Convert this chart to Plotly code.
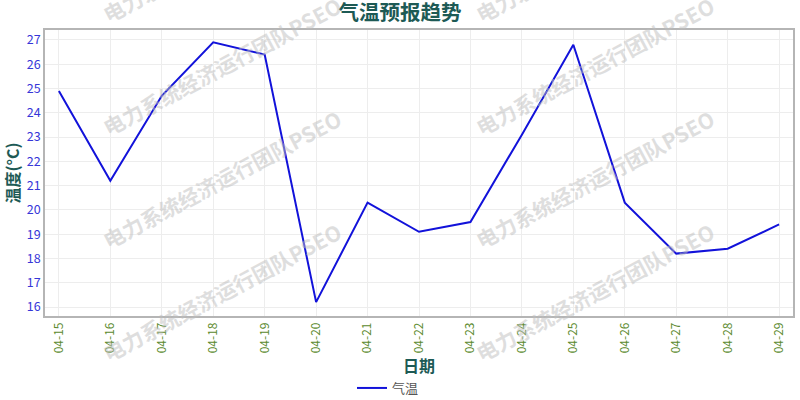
import plotly.graph_objects as go

dates = ["04-15", "04-16", "04-17", "04-18", "04-19", "04-20", "04-21", "04-22",
         "04-23", "04-24", "04-25", "04-26", "04-27", "04-28", "04-29"]
temps = [24.9, 21.2, 24.7, 26.9, 26.4, 16.2, 20.3, 19.1,
         19.5, 23.1, 26.8, 20.3, 18.2, 18.4, 19.4]

title_text = "气温预报趋势"
x_title = "日期"
y_title = "温度(°C)"
series_name = "气温"
watermark = "电力系统经济运行团队PSEO"

FONT = "Noto Sans CJK SC"
L, R, T, B = 45, 7, 30, 84
W, H = 800, 400
pw, ph = W - L - R, H - T - B

fig = go.Figure()
fig.add_trace(go.Scatter(
    x=dates, y=temps, mode="lines", name=series_name,
    line=dict(color="#1212da", width=2),
))

# watermark copies (pixel centres)
wm_centres = [(222, -47), (222, 66), (222, 179), (222, 292),
              (595, -47), (595, 66), (595, 179), (595, 292)]
for cx, cy in wm_centres:
    fig.add_annotation(
        text=watermark, xref="paper", yref="paper",
        x=(cx - L) / pw, y=(H - B - cy) / ph,
        xanchor="center", yanchor="middle", showarrow=False,
        textangle=-28,
        font=dict(family=FONT, size=21, color="rgba(190,190,190,0.5)", weight="bold"),
    )

fig.update_layout(
    width=W, height=H,
    margin=dict(l=L, r=R, t=T, b=B, autoexpand=False),
    paper_bgcolor="white", plot_bgcolor="white",
    font=dict(family=FONT),
    title=dict(text=title_text, x=0.5, xref="container", xanchor="center",
               y=1 - 13 / H, yref="container", yanchor="middle",
               font=dict(family=FONT, size=20.5, color="#1d5a55", weight="bold")),
    showlegend=True,
    legend=dict(orientation="h", x=(388 - L) / pw, xanchor="center",
                y=(H - B - 388) / ph, yanchor="middle",
                font=dict(family=FONT, size=13, color="#555555"),
                itemwidth=30, bgcolor="rgba(0,0,0,0)"),
    xaxis=dict(
        type="category", range=[-0.27, 14.27], automargin=False,
        tickangle=-90, tickfont=dict(family=FONT, size=12, color="#5b8a2e"),
        showgrid=True, gridcolor="#ededed", gridwidth=1,
        showline=True, linecolor="#b5b5b5", linewidth=1.5, mirror=True,
        ticks="", zeroline=False,
        title=dict(text=x_title, standoff=4,
                   font=dict(family=FONT, size=16, color="#1d5a55", weight="bold")),
    ),
    yaxis=dict(
        range=[15.63, 27.41], dtick=1, automargin=False,
        tickfont=dict(family=FONT, size=12.5, color="#3636d8"),
        showgrid=True, gridcolor="#ededed", gridwidth=1,
        showline=True, linecolor="#b5b5b5", linewidth=1.5, mirror=True,
        ticks="", zeroline=False,
        title=dict(text=y_title, standoff=6,
                   font=dict(family=FONT, size=16, color="#1d5a55", weight="bold")),
    ),
)

fig.write_html("out.html", config={"displayModeBar": False},
               post_script="document.body.style.margin='0';document.body.style.overflow='hidden';")
